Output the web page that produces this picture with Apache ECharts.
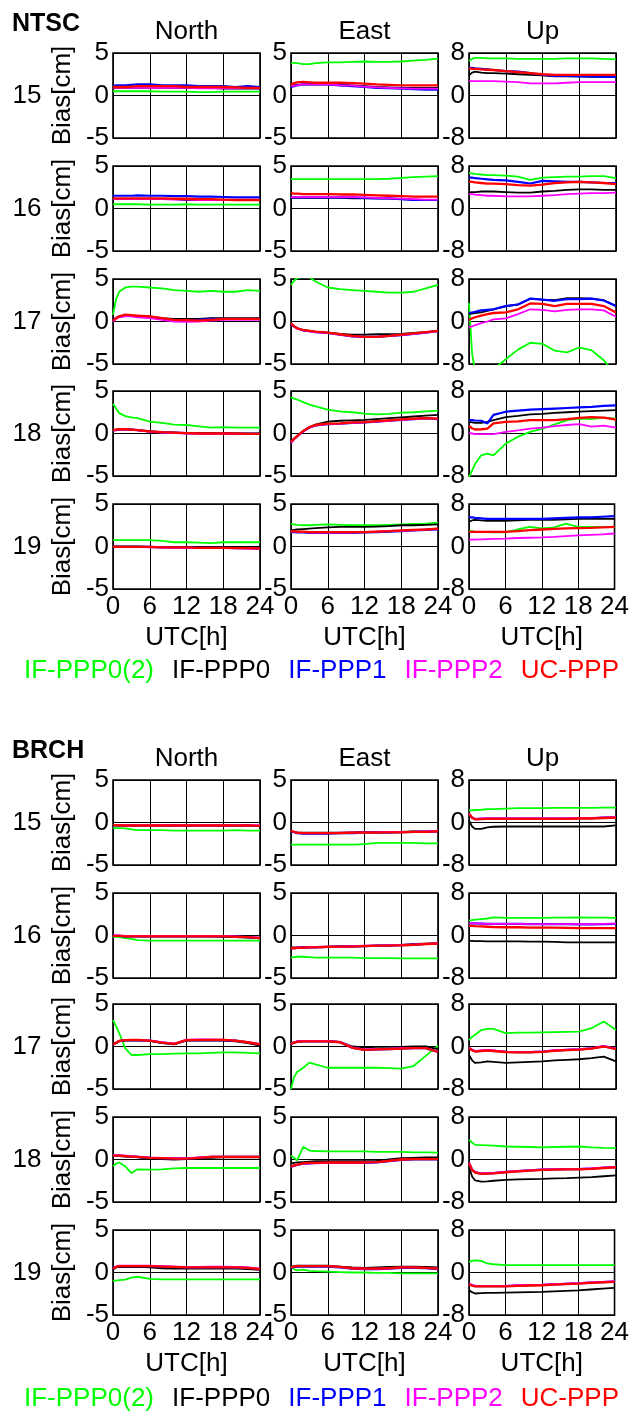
<!DOCTYPE html>
<html>
<head>
<meta charset="utf-8">
<script src="https://cdn.jsdelivr.net/npm/echarts@6.0.0/dist/echarts.min.js"></script>
<style>html,body{margin:0;padding:0;background:#fff}#c{width:632px;height:1412px}</style>
</head>
<body>
<div id="c"></div>
<script>
// ---------- data ----------
const T = [0, 0.5, 1, 2, 3, 4, 6, 8, 10, 12, 14, 16, 18, 20, 22, 24];
const STATIONS = ['NTSC', 'BRCH'];
const DAYS = ['15', '16', '17', '18', '19'];
const COMPONENTS = ['North', 'East', 'Up'];
const METHODS = ['IF-PPP0(2)', 'IF-PPP0', 'IF-PPP1', 'IF-PPP2', 'UC-PPP'];
const X_TICKS = [0, 6, 12, 18, 24];
const Y_TICKS_NE = [-5, 0, 5];
const Y_TICKS_UP = [-8, 0, 8];
const X_LABEL = 'UTC[h]';
const Y_LABEL = 'Bias[cm]';

// NTSC North
const NTSC_N_G = [
[0.5,0.5,0.5,0.5,0.5,0.5,0.5,0.45,0.45,0.45,0.4,0.4,0.45,0.45,0.45,0.45],
[0.5,0.5,0.5,0.5,0.5,0.5,0.45,0.45,0.45,0.5,0.45,0.45,0.45,0.45,0.45,0.45],
[0.8,2.6,3.5,4.0,4.1,4.1,4.0,3.9,3.7,3.6,3.5,3.6,3.5,3.5,3.7,3.6],
[3.5,2.95,2.4,2.05,1.9,1.8,1.4,1.25,1.05,1.0,0.85,0.7,0.75,0.7,0.7,0.7],
[0.75,0.75,0.75,0.75,0.75,0.75,0.75,0.65,0.5,0.5,0.45,0.4,0.5,0.5,0.5,0.5]];
const NTSC_N_K = [
[0.8,0.9,0.9,0.9,0.9,0.9,0.9,0.9,0.9,0.9,0.9,0.9,0.8,0.8,0.8,0.8],
[1.1,1.1,1.1,1.1,1.1,1.1,1.1,1.1,1.1,1.0,1.0,1.0,1.0,1.0,1.0,1.0],
[0.2,0.4,0.6,0.7,0.7,0.6,0.6,0.4,0.3,0.3,0.3,0.4,0.4,0.4,0.4,0.4],
[0.4,0.45,0.5,0.5,0.45,0.4,0.25,0.15,0.1,0.05,0.05,0.05,0.05,0.0,0.0,0.0],
[0.0,0.0,0.0,0.0,0.0,0.0,-0.05,-0.05,-0.1,-0.1,-0.1,-0.1,-0.15,-0.15,-0.2,-0.2]];
const NTSC_N_B = [
[1.1,1.2,1.2,1.2,1.25,1.3,1.3,1.2,1.2,1.2,1.1,1.1,1.1,1.0,1.1,1.0],
[1.5,1.5,1.5,1.5,1.5,1.55,1.5,1.5,1.45,1.45,1.4,1.4,1.35,1.3,1.3,1.3],
[0.1,0.4,0.6,0.7,0.65,0.6,0.5,0.3,0.2,0.15,0.2,0.3,0.3,0.3,0.3,0.3],
[0.35,0.4,0.45,0.5,0.45,0.4,0.25,0.15,0.1,0.05,0.0,0.0,0.0,0.0,-0.05,-0.05],
[0.0,-0.05,-0.05,-0.05,-0.05,-0.05,-0.05,-0.1,-0.1,-0.1,-0.15,-0.15,-0.15,-0.2,-0.2,-0.25]];
const NTSC_N_M = [
[0.9,0.9,0.9,0.9,0.9,0.9,0.9,0.9,0.9,0.9,0.85,0.85,0.85,0.85,0.85,0.85],
[1.1,1.1,1.1,1.1,1.1,1.1,1.1,1.1,1.05,1.05,1.0,1.0,1.0,1.0,1.0,1.0],
[0.0,0.3,0.5,0.6,0.6,0.5,0.4,0.2,0.0,-0.05,0.0,0.1,0.2,0.2,0.2,0.2],
[0.35,0.4,0.45,0.5,0.45,0.4,0.2,0.1,0.05,0.0,-0.05,-0.05,0.0,-0.05,-0.05,-0.05],
[-0.05,-0.05,-0.05,-0.05,-0.05,-0.05,-0.1,-0.1,-0.15,-0.15,-0.15,-0.2,-0.2,-0.2,-0.25,-0.25]];
const NTSC_N_R = [
[1.0,1.0,1.0,1.0,1.05,1.1,1.1,1.1,1.1,1.0,1.0,1.0,1.0,0.95,0.9,0.9],
[1.2,1.2,1.2,1.2,1.2,1.2,1.2,1.2,1.15,1.15,1.1,1.1,1.05,1.0,1.0,1.0],
[0.1,0.4,0.6,0.8,0.75,0.7,0.6,0.4,0.2,0.15,0.1,0.2,0.3,0.3,0.3,0.3],
[0.4,0.45,0.5,0.5,0.45,0.4,0.25,0.15,0.1,0.05,0.0,0.0,0.0,0.0,-0.05,-0.05],
[0.0,-0.05,-0.05,-0.05,-0.05,-0.05,-0.05,-0.1,-0.1,-0.1,-0.15,-0.15,-0.15,-0.2,-0.2,-0.25]];

// NTSC East
const NTSC_E_G = [
[3.85,3.85,3.8,3.7,3.7,3.8,3.9,3.9,3.95,4.0,3.95,3.95,4.0,4.1,4.2,4.35],
[3.45,3.45,3.45,3.45,3.45,3.45,3.45,3.45,3.45,3.45,3.45,3.5,3.6,3.7,3.75,3.8],
[4.3,4.8,5.1,5.3,5.2,4.7,4.0,3.8,3.7,3.6,3.5,3.4,3.4,3.5,3.9,4.3],
[4.25,4.1,4.0,3.7,3.4,3.2,2.8,2.6,2.5,2.35,2.25,2.3,2.45,2.5,2.6,2.7],
[2.65,2.6,2.55,2.5,2.5,2.55,2.6,2.55,2.5,2.5,2.5,2.55,2.6,2.65,2.7,2.8]];
const NTSC_E_K = [
[1.2,1.2,1.25,1.3,1.3,1.3,1.3,1.25,1.2,1.1,1.0,0.95,0.9,0.9,0.9,0.9],
[1.25,1.25,1.25,1.25,1.25,1.25,1.25,1.25,1.2,1.2,1.2,1.15,1.1,1.05,1.0,1.0],
[-0.3,-0.6,-0.8,-1.0,-1.1,-1.2,-1.3,-1.45,-1.55,-1.55,-1.5,-1.5,-1.45,-1.35,-1.25,-1.1],
[-1.0,-0.6,-0.3,0.3,0.75,1.05,1.4,1.5,1.55,1.6,1.7,1.8,1.9,2.0,2.1,2.2],
[1.9,1.95,2.0,2.05,2.1,2.15,2.25,2.3,2.3,2.3,2.35,2.4,2.5,2.5,2.55,2.6]];
const NTSC_E_B = [
[1.0,1.1,1.2,1.3,1.3,1.3,1.3,1.2,1.1,1.0,0.9,0.85,0.8,0.75,0.7,0.7],
[1.3,1.3,1.3,1.3,1.3,1.3,1.3,1.3,1.3,1.25,1.2,1.2,1.1,1.0,1.0,1.0],
[-0.3,-0.6,-0.8,-1.05,-1.15,-1.25,-1.35,-1.55,-1.75,-1.8,-1.8,-1.7,-1.6,-1.45,-1.3,-1.1],
[-1.05,-0.65,-0.35,0.25,0.7,0.95,1.1,1.15,1.25,1.3,1.4,1.5,1.6,1.7,1.8,1.7],
[1.7,1.7,1.65,1.65,1.6,1.6,1.6,1.6,1.6,1.65,1.7,1.75,1.8,1.9,1.95,2.0]];
const NTSC_E_M = [
[1.1,1.15,1.2,1.3,1.3,1.3,1.3,1.2,1.15,1.05,0.95,0.9,0.85,0.8,0.8,0.8],
[1.35,1.35,1.35,1.35,1.35,1.35,1.35,1.35,1.35,1.3,1.25,1.2,1.15,1.1,1.05,1.05],
[-0.3,-0.6,-0.85,-1.05,-1.15,-1.25,-1.35,-1.55,-1.75,-1.85,-1.8,-1.7,-1.6,-1.45,-1.3,-1.15],
[-1.1,-0.7,-0.35,0.25,0.7,0.95,1.1,1.15,1.25,1.3,1.4,1.5,1.6,1.7,1.8,1.75],
[1.75,1.75,1.7,1.7,1.65,1.65,1.65,1.65,1.65,1.7,1.75,1.8,1.85,1.9,2.0,2.05]];
const NTSC_E_R = [
[1.3,1.45,1.55,1.6,1.55,1.5,1.5,1.5,1.45,1.4,1.3,1.25,1.2,1.2,1.2,1.2],
[1.8,1.75,1.75,1.7,1.7,1.7,1.7,1.65,1.65,1.6,1.55,1.5,1.45,1.4,1.4,1.4],
[-0.2,-0.55,-0.8,-1.0,-1.1,-1.2,-1.3,-1.5,-1.7,-1.8,-1.8,-1.7,-1.55,-1.4,-1.25,-1.1],
[-1.0,-0.6,-0.3,0.3,0.75,1.0,1.15,1.2,1.3,1.35,1.45,1.55,1.65,1.75,1.8,1.75],
[1.8,1.8,1.75,1.75,1.7,1.7,1.7,1.7,1.7,1.7,1.75,1.8,1.9,1.95,2.0,2.1]];

// NTSC Up
const NTSC_U_G = [
[6.5,6.9,7.1,7.1,7.0,7.0,7.0,6.9,6.9,6.9,6.9,7.0,7.0,7.0,6.9,6.8],
[6.65,6.6,6.5,6.4,6.3,6.3,6.2,6.0,5.4,5.8,5.9,6.0,6.0,6.1,6.1,5.7],
[3.5,-6.0,-9.5,-12.0,-10.5,-9.0,-7.1,-5.3,-4.0,-4.2,-5.5,-5.8,-4.9,-5.4,-7.3,-10.0],
[-8.2,-7.0,-5.7,-4.1,-3.8,-4.1,-1.9,-0.6,0.3,0.9,1.7,2.5,2.8,2.7,3.0,2.8],
[2.95,2.9,2.8,2.7,2.7,2.65,2.65,3.2,3.7,3.4,3.6,4.3,3.7,3.7,3.7,3.7]];
const NTSC_U_K = [
[3.8,4.3,4.5,4.3,4.2,4.2,4.1,4.0,3.9,3.8,3.6,3.6,3.6,3.5,3.5,3.5],
[3.1,3.1,3.1,3.2,3.2,3.2,3.1,3.0,3.0,3.2,3.3,3.5,3.6,3.6,3.5,3.5],
[1.4,1.5,1.6,1.7,2.0,2.3,2.9,3.2,4.3,4.1,4.0,4.4,4.4,4.3,4.0,2.9],
[2.2,2.1,2.0,2.0,2.2,2.5,3.1,3.3,3.6,3.7,3.9,4.0,4.1,4.2,4.3,4.4],
[4.65,4.9,5.0,4.9,4.85,4.85,4.85,4.9,5.0,5.0,5.0,5.1,5.2,5.2,5.2,5.2]];
const NTSC_U_B = [
[5.2,5.2,5.1,5.0,4.9,4.8,4.6,4.5,4.2,3.9,3.7,3.7,3.6,3.6,3.5,3.5],
[5.8,5.8,5.7,5.6,5.5,5.4,5.3,5.0,4.7,5.2,5.1,5.0,5.0,4.9,4.8,4.8],
[1.6,1.7,1.8,2.1,2.2,2.3,2.9,3.2,4.3,4.1,3.9,4.2,4.2,4.3,3.95,2.9],
[2.5,2.5,2.45,2.4,1.9,3.5,4.1,4.3,4.5,4.6,4.7,4.8,4.9,5.0,5.2,5.3],
[5.5,5.5,5.4,5.3,5.2,5.2,5.2,5.2,5.2,5.2,5.3,5.4,5.5,5.5,5.6,5.7]];
const NTSC_U_M = [
[2.7,2.7,2.7,2.7,2.7,2.7,2.6,2.5,2.3,2.3,2.3,2.4,2.5,2.5,2.5,2.5],
[2.7,2.7,2.6,2.5,2.4,2.4,2.3,2.3,2.3,2.4,2.5,2.7,2.8,2.9,2.9,3.0],
[-1.1,-0.9,-0.7,-0.3,0.0,0.4,0.6,1.4,2.3,2.2,1.9,2.2,2.3,2.3,2.1,0.9],
[0.1,0.0,-0.1,-0.1,-0.1,-0.1,0.3,0.6,0.9,1.1,1.4,1.6,1.75,1.3,1.5,1.1],
[1.3,1.3,1.3,1.35,1.4,1.45,1.5,1.6,1.65,1.7,1.8,1.95,2.1,2.2,2.3,2.45]];
const NTSC_U_R = [
[5.1,5.0,5.0,4.9,4.85,4.8,4.6,4.4,4.2,4.0,3.9,3.9,3.9,3.9,3.9,3.9],
[5.1,5.0,4.9,4.8,4.7,4.7,4.6,4.4,4.3,4.5,4.8,4.9,5.0,4.9,4.8,4.6],
[0.3,0.6,0.8,1.1,1.4,1.6,1.7,2.3,3.4,3.3,2.9,3.3,3.3,3.3,2.9,1.7],
[1.4,1.0,0.75,0.8,0.9,1.9,2.2,2.3,2.5,2.5,2.5,2.7,2.95,3.1,3.0,2.6],
[2.75,2.75,2.75,2.75,2.75,2.75,2.75,2.9,3.1,3.2,3.3,3.4,3.45,3.5,3.6,3.7]];

// BRCH North
const BRCH_N_G = [
[-0.65,-0.65,-0.65,-0.7,-0.8,-0.9,-0.9,-0.9,-0.95,-0.95,-0.95,-0.95,-0.95,-0.9,-0.95,-0.95],
[-0.15,-0.15,-0.2,-0.3,-0.4,-0.55,-0.6,-0.6,-0.6,-0.6,-0.6,-0.6,-0.6,-0.6,-0.6,-0.6],
[3.1,2.4,1.6,-0.2,-1.0,-1.0,-0.9,-0.9,-0.85,-0.8,-0.8,-0.75,-0.7,-0.7,-0.75,-0.8],
[-0.8,-0.5,-0.35,-0.8,-1.6,-1.15,-1.2,-1.15,-1.05,-1.0,-1.0,-1.0,-1.0,-1.0,-1.0,-1.0],
[-1.0,-0.95,-0.9,-0.85,-0.6,-0.5,-0.75,-0.8,-0.8,-0.8,-0.8,-0.8,-0.8,-0.8,-0.8,-0.8]];
const BRCH_N_K = [
[-0.35,-0.35,-0.35,-0.35,-0.35,-0.35,-0.35,-0.35,-0.35,-0.35,-0.35,-0.35,-0.35,-0.35,-0.35,-0.45],
[-0.05,-0.05,-0.05,-0.1,-0.1,-0.1,-0.1,-0.1,-0.1,-0.1,-0.1,-0.1,-0.15,-0.2,-0.25,-0.3],
[0.2,0.4,0.6,0.7,0.7,0.7,0.65,0.4,0.25,0.7,0.7,0.7,0.7,0.6,0.4,0.1],
[0.4,0.4,0.4,0.35,0.3,0.25,0.1,0.05,0.0,0.05,0.15,0.2,0.25,0.25,0.25,0.25],
[0.35,0.6,0.65,0.65,0.65,0.65,0.6,0.5,0.45,0.45,0.45,0.45,0.45,0.45,0.4,0.3]];
const BRCH_N_B = [
[-0.3,-0.3,-0.35,-0.35,-0.35,-0.35,-0.35,-0.35,-0.35,-0.35,-0.35,-0.35,-0.35,-0.35,-0.35,-0.4],
[-0.05,-0.05,-0.05,-0.1,-0.1,-0.1,-0.1,-0.1,-0.1,-0.1,-0.1,-0.1,-0.1,-0.15,-0.2,-0.3],
[0.25,0.45,0.65,0.75,0.75,0.75,0.7,0.45,0.3,0.75,0.75,0.75,0.75,0.7,0.5,0.25],
[0.45,0.45,0.45,0.4,0.35,0.3,0.2,0.15,0.1,0.1,0.2,0.3,0.3,0.3,0.3,0.3],
[0.45,0.65,0.75,0.75,0.75,0.75,0.75,0.7,0.65,0.6,0.6,0.6,0.6,0.6,0.55,0.4]];
const BRCH_N_M = [
[-0.3,-0.3,-0.3,-0.3,-0.3,-0.3,-0.3,-0.3,-0.3,-0.3,-0.3,-0.3,-0.3,-0.3,-0.3,-0.35],
[0.0,0.0,0.0,-0.05,-0.05,-0.05,-0.05,-0.05,-0.05,-0.05,-0.05,-0.05,-0.05,-0.1,-0.15,-0.25],
[0.25,0.45,0.65,0.75,0.75,0.75,0.7,0.5,0.35,0.8,0.85,0.85,0.8,0.7,0.5,0.3],
[0.5,0.5,0.5,0.45,0.4,0.35,0.25,0.2,0.15,0.15,0.25,0.35,0.35,0.35,0.35,0.35],
[0.5,0.7,0.8,0.8,0.8,0.8,0.8,0.75,0.7,0.65,0.65,0.7,0.7,0.65,0.6,0.45]];
const BRCH_N_R = [
[-0.3,-0.3,-0.35,-0.35,-0.35,-0.35,-0.35,-0.35,-0.35,-0.35,-0.35,-0.35,-0.35,-0.35,-0.35,-0.4],
[-0.05,-0.05,-0.05,-0.1,-0.1,-0.1,-0.1,-0.1,-0.1,-0.1,-0.1,-0.1,-0.1,-0.15,-0.2,-0.3],
[0.25,0.45,0.65,0.75,0.77,0.77,0.7,0.45,0.3,0.75,0.77,0.77,0.77,0.7,0.5,0.25],
[0.45,0.45,0.45,0.4,0.35,0.3,0.2,0.15,0.1,0.1,0.2,0.3,0.3,0.3,0.3,0.3],
[0.45,0.65,0.75,0.75,0.75,0.75,0.75,0.7,0.65,0.6,0.6,0.6,0.6,0.6,0.55,0.4]];

// BRCH East
const BRCH_E_G = [
[-2.6,-2.6,-2.6,-2.6,-2.6,-2.6,-2.6,-2.6,-2.6,-2.55,-2.4,-2.4,-2.4,-2.4,-2.45,-2.45],
[-2.6,-2.55,-2.5,-2.5,-2.55,-2.6,-2.6,-2.6,-2.6,-2.65,-2.65,-2.65,-2.7,-2.7,-2.7,-2.7],
[-5.0,-3.6,-3.0,-2.5,-1.9,-2.1,-2.5,-2.5,-2.5,-2.5,-2.5,-2.55,-2.6,-2.3,-1.1,0.1],
[0.45,0.2,-0.1,1.5,1.05,1.0,0.95,0.95,0.95,0.95,0.9,0.9,0.9,0.85,0.85,0.8],
[0.65,0.4,0.25,0.35,0.2,0.15,0.1,0.05,0.0,0.0,-0.05,-0.05,-0.1,-0.1,-0.1,-0.1]];
const BRCH_E_K = [
[-1.0,-1.1,-1.2,-1.2,-1.2,-1.2,-1.2,-1.2,-1.15,-1.1,-1.15,-1.1,-1.1,-1.05,-1.05,-1.0],
[-1.4,-1.4,-1.4,-1.35,-1.35,-1.35,-1.3,-1.25,-1.25,-1.25,-1.2,-1.15,-1.1,-1.0,-0.95,-0.9],
[0.4,0.5,0.6,0.65,0.65,0.65,0.65,0.55,0.0,-0.1,-0.05,-0.05,-0.05,0.0,0.0,-0.3],
[-0.45,-0.4,-0.35,-0.3,-0.25,-0.2,-0.2,-0.2,-0.2,-0.2,-0.15,0.0,0.15,0.2,0.25,0.25],
[0.6,0.75,0.8,0.8,0.8,0.8,0.8,0.7,0.6,0.55,0.6,0.65,0.7,0.7,0.65,0.6]];
const BRCH_E_B = [
[-1.05,-1.15,-1.25,-1.3,-1.3,-1.3,-1.3,-1.25,-1.25,-1.2,-1.2,-1.2,-1.15,-1.1,-1.1,-1.05],
[-1.5,-1.5,-1.45,-1.45,-1.4,-1.4,-1.35,-1.3,-1.3,-1.25,-1.2,-1.2,-1.15,-1.1,-1.0,-0.95],
[0.3,0.45,0.55,0.6,0.6,0.6,0.6,0.5,-0.15,-0.4,-0.35,-0.3,-0.25,-0.2,-0.2,-0.65],
[-0.85,-0.75,-0.65,-0.5,-0.45,-0.4,-0.4,-0.4,-0.4,-0.4,-0.35,-0.2,-0.05,0.0,0.0,0.0],
[0.55,0.65,0.7,0.7,0.7,0.7,0.7,0.6,0.45,0.4,0.4,0.45,0.55,0.55,0.5,0.4]];
const BRCH_E_M = [
[-1.0,-1.1,-1.2,-1.25,-1.25,-1.25,-1.25,-1.2,-1.2,-1.15,-1.15,-1.1,-1.1,-1.1,-1.05,-1.0],
[-1.45,-1.45,-1.4,-1.4,-1.35,-1.35,-1.3,-1.3,-1.25,-1.2,-1.2,-1.15,-1.1,-1.05,-1.0,-0.9],
[0.35,0.5,0.6,0.65,0.65,0.65,0.65,0.55,-0.1,-0.35,-0.3,-0.25,-0.2,-0.15,-0.15,-0.6],
[-0.85,-0.75,-0.6,-0.5,-0.45,-0.45,-0.4,-0.4,-0.4,-0.35,-0.3,-0.15,0.0,0.05,0.05,0.05],
[0.6,0.7,0.75,0.75,0.75,0.75,0.75,0.65,0.5,0.45,0.45,0.5,0.6,0.6,0.55,0.45]];
const BRCH_E_R = [
[-1.0,-1.1,-1.2,-1.25,-1.25,-1.25,-1.25,-1.25,-1.2,-1.2,-1.2,-1.15,-1.15,-1.1,-1.1,-1.05],
[-1.5,-1.5,-1.45,-1.45,-1.4,-1.4,-1.35,-1.3,-1.3,-1.25,-1.2,-1.2,-1.15,-1.1,-1.0,-0.95],
[0.3,0.45,0.55,0.6,0.6,0.6,0.6,0.5,-0.15,-0.4,-0.35,-0.3,-0.25,-0.2,-0.2,-0.65],
[-0.8,-0.7,-0.6,-0.45,-0.4,-0.4,-0.35,-0.35,-0.35,-0.35,-0.3,-0.15,0.0,0.05,0.05,0.05],
[0.6,0.7,0.75,0.75,0.75,0.75,0.75,0.65,0.5,0.45,0.45,0.5,0.6,0.6,0.55,0.45]];

// BRCH Up
const BRCH_U_G = [
[2.3,2.3,2.35,2.4,2.5,2.5,2.6,2.7,2.7,2.7,2.75,2.75,2.75,2.75,2.8,2.8],
[2.8,2.9,3.0,3.1,3.2,3.4,3.3,3.3,3.3,3.3,3.35,3.35,3.4,3.35,3.35,3.3],
[1.25,1.8,2.2,3.1,3.3,3.3,2.5,2.6,2.6,2.65,2.7,2.75,2.8,3.45,4.7,3.1],
[3.7,3.2,2.75,2.7,2.65,2.6,2.45,2.4,2.35,2.3,2.35,2.4,2.45,2.3,2.2,2.15],
[2.0,2.2,2.3,2.2,1.7,1.55,1.4,1.4,1.4,1.4,1.4,1.4,1.4,1.4,1.4,1.4]];
const BRCH_U_K = [
[0.4,-0.75,-1.2,-1.2,-0.9,-0.8,-0.75,-0.75,-0.75,-0.75,-0.75,-0.75,-0.75,-0.75,-0.75,-0.55],
[-1.0,-1.0,-1.05,-1.05,-1.1,-1.1,-1.1,-1.1,-1.15,-1.15,-1.2,-1.3,-1.3,-1.3,-1.3,-1.3],
[-1.6,-2.6,-3.1,-3.0,-2.8,-2.9,-3.1,-3.0,-2.9,-2.8,-2.6,-2.5,-2.4,-2.2,-1.9,-2.8],
[-1.3,-3.2,-3.95,-4.15,-4.1,-4.0,-3.85,-3.75,-3.7,-3.65,-3.55,-3.5,-3.4,-3.3,-3.15,-3.0],
[-3.35,-3.7,-3.95,-3.9,-3.85,-3.85,-3.8,-3.75,-3.7,-3.65,-3.55,-3.45,-3.35,-3.2,-3.05,-2.9]];
const BRCH_U_B = [
[1.6,0.9,0.65,0.7,0.75,0.75,0.75,0.75,0.75,0.75,0.75,0.75,0.8,0.8,0.9,0.95],
[2.3,2.3,2.3,2.25,2.2,2.2,2.2,2.2,2.15,2.15,2.15,2.15,2.1,2.1,2.15,2.2],
[-0.25,-0.65,-0.9,-0.8,-0.7,-0.8,-1.0,-1.05,-1.05,-0.95,-0.75,-0.65,-0.55,-0.35,0.05,-0.45],
[-0.65,-1.9,-2.4,-2.65,-2.6,-2.55,-2.35,-2.2,-2.05,-1.9,-1.85,-1.8,-1.8,-1.7,-1.55,-1.45],
[-2.15,-2.4,-2.55,-2.55,-2.55,-2.55,-2.55,-2.45,-2.4,-2.35,-2.25,-2.15,-2.05,-1.9,-1.8,-1.7]];
const BRCH_U_M = [
[1.7,0.95,0.7,0.75,0.8,0.8,0.8,0.8,0.8,0.8,0.8,0.8,0.85,0.85,0.95,1.0],
[2.3,2.3,2.3,2.25,2.2,2.2,2.2,2.2,2.15,2.15,2.15,2.15,2.15,2.15,2.2,2.25],
[-0.2,-0.6,-0.85,-0.75,-0.65,-0.75,-0.95,-1.0,-1.0,-0.9,-0.7,-0.6,-0.5,-0.3,0.1,-0.4],
[-0.6,-1.85,-2.35,-2.6,-2.55,-2.5,-2.3,-2.15,-2.0,-1.85,-1.8,-1.75,-1.75,-1.65,-1.5,-1.4],
[-2.1,-2.35,-2.5,-2.5,-2.5,-2.5,-2.5,-2.4,-2.35,-2.3,-2.2,-2.1,-2.0,-1.85,-1.75,-1.65]];
const BRCH_U_R = [
[1.65,0.9,0.6,0.65,0.7,0.7,0.7,0.7,0.7,0.7,0.7,0.7,0.75,0.75,0.85,0.9],
[1.8,1.8,1.75,1.7,1.65,1.6,1.55,1.55,1.5,1.5,1.5,1.45,1.4,1.4,1.4,1.4],
[-0.3,-0.7,-0.95,-0.85,-0.75,-0.85,-1.05,-1.1,-1.1,-1.0,-0.8,-0.7,-0.6,-0.4,0.0,-0.5],
[-0.7,-1.95,-2.45,-2.7,-2.65,-2.6,-2.4,-2.25,-2.1,-1.95,-1.9,-1.85,-1.85,-1.75,-1.6,-1.5],
[-2.2,-2.45,-2.6,-2.6,-2.6,-2.6,-2.6,-2.5,-2.45,-2.4,-2.3,-2.2,-2.1,-1.95,-1.85,-1.75]];

// ---------- assembly ----------
const SERIES_DATA = {
  NTSC: { North: [NTSC_N_G, NTSC_N_K, NTSC_N_B, NTSC_N_M, NTSC_N_R],
          East:  [NTSC_E_G, NTSC_E_K, NTSC_E_B, NTSC_E_M, NTSC_E_R],
          Up:    [NTSC_U_G, NTSC_U_K, NTSC_U_B, NTSC_U_M, NTSC_U_R] },
  BRCH: { North: [BRCH_N_G, BRCH_N_K, BRCH_N_B, BRCH_N_M, BRCH_N_R],
          East:  [BRCH_E_G, BRCH_E_K, BRCH_E_B, BRCH_E_M, BRCH_E_R],
          Up:    [BRCH_U_G, BRCH_U_K, BRCH_U_B, BRCH_U_M, BRCH_U_R] }
};

const FONT = '"Liberation Sans", Arial, Helvetica, sans-serif';
const COLORS = ['#00ff00', '#000000', '#0000ff', '#ff00ff', '#ff0000'];
const WIDTHS = [1.8, 1.8, 2.2, 1.8, 2.3];
const COL_LEFT = [113, 291, 469];
const COL_W = 147;
const ROW_H = 85;
const ROW_TOP = { NTSC: [53, 166, 279, 391, 504], BRCH: [780, 893, 1004, 1117, 1230] };
const HEAD_Y = { NTSC: { label: 24, title: 32, legend: 658 }, BRCH: { label: 751, title: 759, legend: 1386 } };

const grids = [], xAxes = [], yAxes = [], series = [], graphics = [];
let gi = 0;
STATIONS.forEach(st => {
  graphics.push({ type: 'text', x: 12, y: HEAD_Y[st].label,
    style: { text: st, fill: '#000', fontSize: 25, fontWeight: 'bold', fontFamily: FONT, align: 'left', verticalAlign: 'middle' } });
  COMPONENTS.forEach((comp, c) => {
    graphics.push({ type: 'text', x: COL_LEFT[c] + COL_W / 2, y: HEAD_Y[st].title,
      style: { text: comp, fill: '#000', fontSize: 26, fontFamily: FONT, align: 'center', verticalAlign: 'middle' } });
  });
  DAYS.forEach((day, r) => {
    const top = ROW_TOP[st][r];
    graphics.push({ type: 'text', x: 27, y: top + ROW_H / 2,
      style: { text: day, fill: '#000', fontSize: 26, fontFamily: FONT, align: 'center', verticalAlign: 'middle' } });
    COMPONENTS.forEach((comp, c) => {
      const ticks = comp === 'Up' ? Y_TICKS_UP : Y_TICKS_NE;
      grids.push({ left: COL_LEFT[c], top: top, width: COL_W, height: ROW_H,
        show: true, borderColor: '#000', borderWidth: 1.6, backgroundColor: '#fff' });
      const last = r === DAYS.length - 1;
      xAxes.push({ gridIndex: gi, type: 'value', min: X_TICKS[0], max: X_TICKS[X_TICKS.length - 1],
        interval: X_TICKS[1] - X_TICKS[0],
        axisLine: { show: false }, axisTick: { show: false },
        splitLine: { show: true, lineStyle: { color: '#000', width: 1 } },
        axisLabel: { show: last, color: '#000', fontSize: 26, fontFamily: FONT, margin: 5 },
        name: last ? X_LABEL : '', nameLocation: 'middle', nameGap: 36,
        nameTextStyle: { color: '#000', fontSize: 26, fontFamily: FONT } });
      yAxes.push({ gridIndex: gi, type: 'value', min: ticks[0], max: ticks[2], interval: ticks[2],
        axisLine: { show: false }, axisTick: { show: false },
        splitLine: { show: true, lineStyle: { color: '#000', width: 1 } },
        axisLabel: { color: '#000', fontSize: 26, fontFamily: FONT, margin: 4 },
        name: c === 0 ? Y_LABEL : '', nameLocation: 'middle', nameRotate: 90, nameGap: 37,
        nameTextStyle: { color: '#000', fontSize: 26, fontFamily: FONT } });
      SERIES_DATA[st][comp].forEach((arr, m) => {
        series.push({ type: 'line', name: METHODS[m], xAxisIndex: gi, yAxisIndex: gi,
          showSymbol: false, symbol: 'none', clip: true, silent: true,
          lineStyle: { color: COLORS[m], width: WIDTHS[m] }, itemStyle: { color: COLORS[m] },
          data: T.map((t, i) => [t, arr[r][i]]) });
      });
      gi++;
    });
  });
});

const legends = STATIONS.map(st => ({
  left: 19, top: HEAD_Y[st].legend, orient: 'horizontal', padding: 0,
  icon: 'none', itemWidth: 0, itemHeight: 0, itemGap: 13, selectedMode: false,
  textStyle: { fontSize: 26, fontFamily: FONT },
  data: METHODS.map((m, i) => ({ name: m, textStyle: { color: COLORS[i] } }))
}));

const chart = echarts.init(document.getElementById('c'), null, { renderer: 'canvas' });
chart.setOption({
  animation: false,
  backgroundColor: '#fff',
  grid: grids, xAxis: xAxes, yAxis: yAxes, series: series,
  legend: legends, graphic: graphics
});
</script>
</body>
</html>
